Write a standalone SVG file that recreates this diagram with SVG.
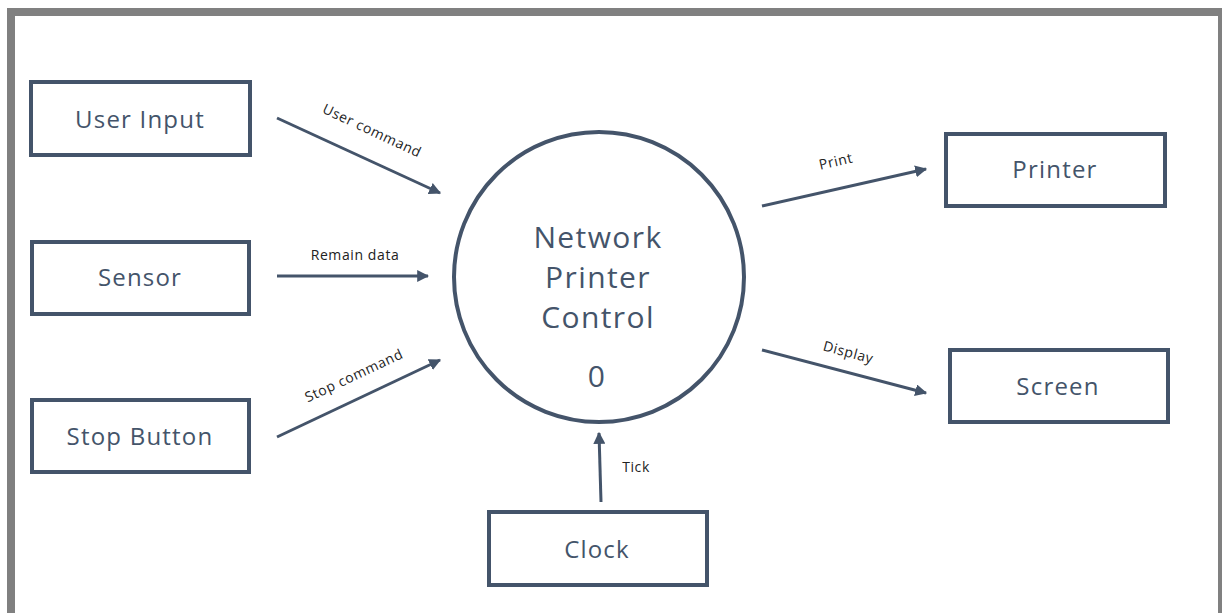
<svg xmlns="http://www.w3.org/2000/svg" width="1222" height="613" viewBox="0 0 1222 613">
<style>
.box{fill:#ffffff;stroke:#44546a;stroke-width:4}
.lbl{font-family:"Open Sans","Noto Sans",sans-serif;font-size:24px;letter-spacing:1.2px;fill:#44546a;text-anchor:middle}
.big{font-family:"Open Sans","Noto Sans",sans-serif;font-size:30px;letter-spacing:1.4px;fill:#44546a;text-anchor:middle}
.flow{font-family:"Open Sans","Noto Sans",sans-serif;font-size:14px;letter-spacing:0.6px;fill:#222222;text-anchor:middle}
.con{stroke:#44546a;stroke-width:3;fill:none;marker-end:url(#ah)}
</style>
<defs>
<marker id="ah" viewBox="0 0 10 10" refX="9" refY="5" markerWidth="4" markerHeight="4" orient="auto" markerUnits="strokeWidth">
<path d="M0,0 L10,5 L0,10 z" fill="#44546a"/>
</marker>
</defs>
<rect x="0" y="0" width="1222" height="613" fill="#ffffff"/>
<rect x="11" y="12" width="1211" height="620" fill="#ffffff" stroke="#808080" stroke-width="8"/>
<g id="user-input"><rect class="box" x="31" y="82" width="219" height="73"/><text class="lbl" x="140" y="128">User Input</text></g>
<g id="sensor"><rect class="box" x="32" y="242" width="217" height="72"/><text class="lbl" x="140" y="286">Sensor</text></g>
<g id="stop-button"><rect class="box" x="32" y="400" width="217" height="72"/><text class="lbl" x="140" y="445">Stop Button</text></g>
<g id="printer"><rect class="box" x="946" y="134" width="219" height="72"/><text class="lbl" x="1055" y="178">Printer</text></g>
<g id="screen"><rect class="box" x="950" y="350" width="218" height="72"/><text class="lbl" x="1058" y="395">Screen</text></g>
<g id="clock"><rect class="box" x="489" y="512" width="218" height="73"/><text class="lbl" x="597" y="558">Clock</text></g>
<g id="npc"><circle cx="599" cy="277" r="145" fill="#ffffff" stroke="#44546a" stroke-width="4"/>
<text class="big" x="598" y="248">Network</text>
<text class="big" x="598" y="288">Printer</text>
<text class="big" x="598" y="328">Control</text>
<text class="big" x="597" y="387">0</text></g>
<g id="connectors">
<line class="con" x1="277" y1="118" x2="440" y2="193"/>
<line class="con" x1="277" y1="276" x2="428" y2="276"/>
<line class="con" x1="277" y1="437" x2="440" y2="360"/>
<line class="con" x1="762" y1="206" x2="926" y2="169"/>
<line class="con" x1="762" y1="350" x2="926" y2="393"/>
<line class="con" x1="601" y1="502" x2="599" y2="433"/>
<text class="flow" transform="translate(370,135) rotate(25)">User command</text>
<text class="flow" x="355" y="260">Remain data</text>
<text class="flow" transform="translate(356,380) rotate(-25)">Stop command</text>
<text class="flow" transform="translate(837,166) rotate(-13)">Print</text>
<text class="flow" transform="translate(847,357) rotate(15)">Display</text>
<text class="flow" x="636" y="472">Tick</text>
</g>
</svg>
